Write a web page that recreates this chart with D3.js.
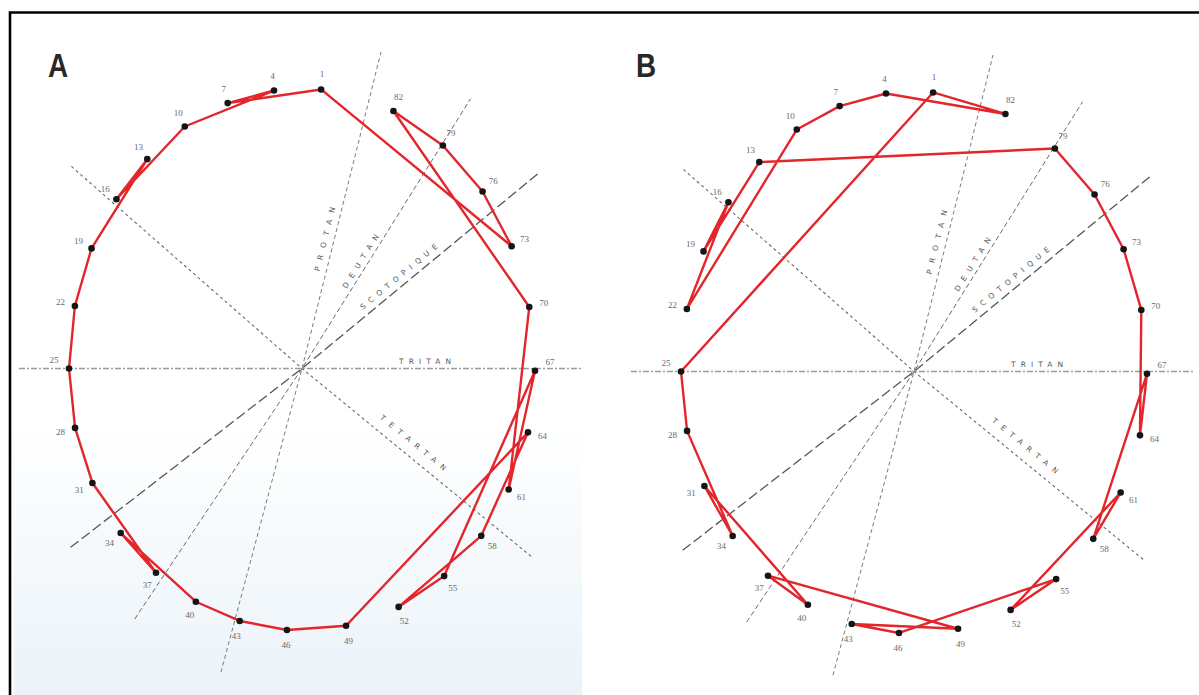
<!DOCTYPE html>
<html>
<head>
<meta charset="utf-8">
<script src="https://cdn.jsdelivr.net/npm/d3@7"></script>
<style>
  body { margin: 0; background: #fff; }
  svg { display: block; }
  text { opacity: 0.97; }
</style>
</head>
<body>
<script>
// cap numbers of the hue test and their hue angle (deg, clockwise from top)
const CAPS = [1, 4, 7, 10, 13, 16, 19, 22, 25, 28, 31, 34, 37, 40,
              43, 46, 49, 52, 55, 58, 61, 64, 67, 70, 73, 76, 79, 82];
const CAP_HUE_DEG = [4.7, -6.9, -18.6, -30.2, -41.6, -52.8, -64.6, -77.1, -90, -103.1,
                     -115.9, -128.9, -141.2, -152.9, -164.5, -176.3, -190.9, -204.5,
                     -217.6, -230.3, -242.5, -255.9, -269.5, -282.7, -295.9, -309.2,
                     -322.8, -336.9];

// order in which the caps were arranged (closed loop)
const SEQ_A = [1, 7, 4, 10, 16, 13, 19, 22, 25, 28, 31, 37, 34, 40, 43, 46,
               49, 64, 58, 52, 55, 67, 61, 70, 82, 79, 76, 73];
const SEQ_B = [1, 25, 28, 34, 31, 40, 37, 49, 43, 46, 55, 52, 61, 58, 67, 64,
               70, 73, 76, 79, 13, 19, 16, 22, 10, 7, 4, 82];

// confusion axes
const AXIS_NAMES = ["PROTAN", "DEUTAN", "SCOTOPIQUE", "TRITAN", "TETARTAN"];
const AXIS_DEG = [16.7, 36.9, 55.5, 90, 126.1];

const PANELS = ["A", "B"];
const SEQS = [SEQ_A, SEQ_B];

// ---- layout / style ----
var W = 1199, H = 695;
var CENTERS = [[302, 368.5], [914, 371.5]];
var LETTER_X = [48, 636];
var RX = 233, RY_UP = 280, RY_DOWN = 262;
var RED = "#e3262b";

// axis extents (outer radius both ways), dash, label spot
var AXIS_EXT = [[1.18, 1.21], [1.205, 1.196], [1.235, 1.205], [1.20, 1.215], [1.23, 1.225]];
var AXIS_DASH = ["4 3", "5 3", "10 4", "6 2 2 2", "3 3"];
var AXIS_COLOR = ["#7a7a7a", "#6a6a6a", "#555", "#9a9a9a", "#6a6a6a"];
var AXIS_WIDTH = [1, 1, 1.3, 1.5, 1.1];
var LABEL_ALONG = [131, 122, 133, 123, 133];
var LABEL_OFF = [9, 7, 9, 7, 13];
var LABEL_LEN = [66, 62, 98, 52, 83];

var svg = d3.select("body")
    .append("svg")
    .attr("width", W)
    .attr("height", H);

var defs = svg.append("defs");
var grad = defs.append("linearGradient")
    .attr("id", "tintA")
    .attr("x1", 0).attr("y1", 0).attr("x2", 0).attr("y2", 1);
grad.append("stop").attr("offset", "0.6").attr("stop-color", "#ffffff");
grad.append("stop").attr("offset", "1").attr("stop-color", "#ebf3f9");

svg.append("rect")
    .attr("width", W).attr("height", H)
    .attr("fill", "#fff");

svg.append("rect")
    .attr("x", 14).attr("y", 14)
    .attr("width", 568).attr("height", H - 14)
    .attr("fill", "url(#tintA)");

// frame (only top and left edges are in view)
svg.append("path")
    .attr("d", "M10," + H + " V12.5 H" + W)
    .attr("fill", "none")
    .attr("stroke", "#000")
    .attr("stroke-width", 2.6);

PANELS.forEach(function(name, i) {
    var cx = CENTERS[i][0], cy = CENTERS[i][1];

    var x = d3.scaleLinear().domain([-1, 1]).range([cx - RX, cx + RX]);
    // the scan is a bit taller above the centre than below it
    var y = d3.scaleLinear().domain([-1, 0, 1]).range([cy + RY_DOWN, cy, cy - RY_UP]);

    var g = svg.append("g").attr("class", "panel-" + name);

    function polar(deg, r) {
        var a = deg * Math.PI / 180;
        return [x(r * Math.sin(a)), y(r * Math.cos(a))];
    }
    function capPos(cap) {
        return polar(CAP_HUE_DEG[CAPS.indexOf(cap)], 1);
    }

    // confusion axes
    AXIS_NAMES.forEach(function(axis, j) {
        var p1 = polar(AXIS_DEG[j], AXIS_EXT[j][0]);
        var p2 = polar(AXIS_DEG[j] + 180, AXIS_EXT[j][1]);
        g.append("path")
            .attr("d", "M" + p2[0] + "," + p2[1] + "L" + cx + "," + cy + "L" + p1[0] + "," + p1[1])
            .attr("fill", "none")
            .attr("stroke", AXIS_COLOR[j])
            .attr("stroke-width", AXIS_WIDTH[j])
            .attr("stroke-dasharray", AXIS_DASH[j]);

        var dx = p1[0] - cx, dy = p1[1] - cy;
        var len = Math.sqrt(dx * dx + dy * dy);
        dx /= len; dy /= len;
        var lx = cx + dx * LABEL_ALONG[j] + dy * LABEL_OFF[j];
        var ly = cy + dy * LABEL_ALONG[j] - dx * LABEL_OFF[j];
        var ang = Math.atan2(dy, dx) * 180 / Math.PI;
        g.append("text")
            .attr("transform", "translate(" + lx + "," + ly + ") rotate(" + ang + ")")
            .attr("text-anchor", "middle")
            .attr("dominant-baseline", "central")
            .attr("textLength", LABEL_LEN[j])
            .attr("lengthAdjust", "spacing")
            .style("font-family", "'DejaVu Sans', sans-serif")
            .style("font-size", "7.5px")
            .style("fill", "#555")
            .text(axis);
    });

    // arrangement line
    var line = d3.line()
        .x(function(d) { return capPos(d)[0]; })
        .y(function(d) { return capPos(d)[1]; })
        .curve(d3.curveLinearClosed);

    g.append("path")
        .datum(SEQS[i])
        .attr("d", line)
        .attr("fill", "none")
        .attr("stroke", RED)
        .attr("stroke-width", 2.4)
        .attr("stroke-linejoin", "round");

    // caps
    g.selectAll(".cap")
        .data(CAPS)
        .enter().append("circle")
        .attr("class", "cap")
        .attr("cx", function(d) { return capPos(d)[0]; })
        .attr("cy", function(d) { return capPos(d)[1]; })
        .attr("r", 3.3)
        .style("fill", "#151515");

    g.selectAll(".capLabel")
        .data(CAPS)
        .enter().append("text")
        .attr("class", "capLabel")
        .attr("x", function(d) {
            var p = capPos(d), vx = p[0] - cx, vy = p[1] - cy;
            return p[0] + 15 * vx / Math.sqrt(vx * vx + vy * vy);
        })
        .attr("y", function(d) {
            var p = capPos(d), vx = p[0] - cx, vy = p[1] - cy;
            return p[1] + 15 * vy / Math.sqrt(vx * vx + vy * vy) - (Math.abs(vy) < 10 ? 9 : 0);
        })
        .attr("text-anchor", "middle")
        .attr("dominant-baseline", "central")
        .style("font-family", "'Liberation Serif', serif")
        .style("font-size", "9px")
        .style("fill", "#666")
        .text(function(d) { return d; });

    // panel letter
    g.append("text")
        .attr("transform", "translate(" + LETTER_X[i] + ",77) scale(0.82,1)")
        .style("font-family", "'Liberation Sans', Arial, sans-serif")
        .style("font-weight", "bold")
        .style("font-size", "34px")
        .style("fill", "#222")
        .text(name);
});
</script>
</body>
</html>
